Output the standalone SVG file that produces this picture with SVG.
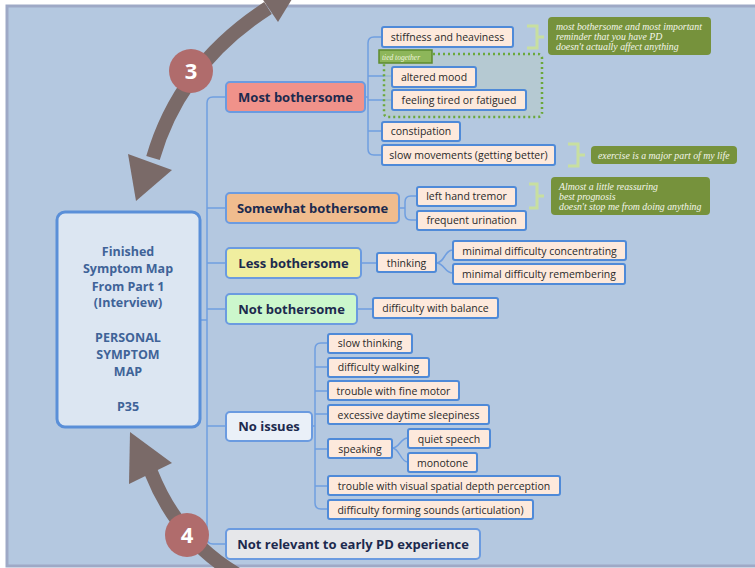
<svg xmlns="http://www.w3.org/2000/svg" width="755" height="568" viewBox="0 0 755 568">
<defs>
<style>
.cat rect{stroke:#6b9be0;stroke-width:2}
.cat text{font-family:"Open Sans","DejaVu Sans",sans-serif;font-weight:bold;font-size:13px;fill:#1c2a4e;text-anchor:middle}
.leaf rect{fill:#fde9dc;stroke:#4f8ad8;stroke-width:2}
.leaf text{font-family:"Open Sans","DejaVu Sans",sans-serif;font-size:10.5px;fill:#2a2a2a;text-anchor:middle}
.note rect{fill:#76923c}
.note text{font-family:"Liberation Serif",serif;font-style:italic;font-size:9.8px;fill:#f4f6ea}
.br{fill:none;stroke:#c8dfa0;stroke-width:3}
.con path{fill:none;stroke:#6f9ee0;stroke-width:1.5}
.arr{fill:none;stroke:#7a6a68;stroke-width:14}
.ah{fill:#7a6a68}
.num circle{fill:#b06c6c}
.num text{font-family:"Open Sans","DejaVu Sans",sans-serif;font-weight:bold;font-size:22px;fill:#ffffff;text-anchor:middle}
</style>
</defs>
<rect x="0" y="0" width="755" height="568" fill="#ffffff"/>
<rect x="7" y="6" width="760" height="560" fill="#b4c8e0" stroke="#9ea9c6" stroke-width="3"/>

<g id="connectors" class="con">
<path d="M226 97 H213 Q207 97 207 103 V538 Q207 544 213 544 H226"/>
<path d="M207 208 H226 M207 263 H226 M207 309 H226 M207 426 H226 M200 320 H207"/>
<path d="M365 97 H368"/>
<path d="M382 37 H374 Q368 37 368 43 V149 Q368 155 374 155 H382"/>
<path d="M368 76 H392 M368 100 H392 M368 131 H382"/>
<path d="M399 208 H405"/>
<path d="M417 196 H411 Q405 196 405 202 V214 Q405 220 411 220 H417"/>
<path d="M361 263 H377"/>
<path d="M436 263 C445 263 444 250 453 250 M436 263 C445 263 444 273 453 273"/>
<path d="M357 309 H373"/>
<path d="M312 426 H315"/>
<path d="M328 343 H321 Q315 343 315 349 V503 Q315 509 321 509 H328"/>
<path d="M315 367 H328 M315 391 H328 M315 414 H328 M315 449 H328 M315 486 H328"/>
<path d="M392 448 C400 448 400 438 408 438 M392 448 C400 448 400 462 408 462"/>
</g>

<g id="group-tied">
<rect x="384" y="54" width="158" height="63" rx="4" fill="#b6cac8" fill-opacity="0.6" stroke="#6aa83a" stroke-width="2.5" stroke-dasharray="2 3"/>
<rect x="379" y="50" width="53" height="13" fill="#8db65a" stroke="#5d8a2e" stroke-width="1.5"/>
<text x="382" y="59.5" font-family="Liberation Serif,serif" font-style="italic" font-size="7.5" fill="#eef5dd">tied together</text>
</g>

<g id="center">
<rect x="57" y="212" width="143" height="215" rx="8" fill="#dce6f2" stroke="#5a8fd8" stroke-width="3"/>
<g font-family="Open Sans,DejaVu Sans,sans-serif" font-weight="bold" font-size="12.5" fill="#3f6398" text-anchor="middle">
<text x="128" y="256">Finished</text>
<text x="128" y="273">Symptom Map</text>
<text x="128" y="291">From Part 1</text>
<text x="128" y="307">(Interview)</text>
<text x="128" y="342">PERSONAL</text>
<text x="128" y="359">SYMPTOM</text>
<text x="128" y="376">MAP</text>
<text x="128" y="411">P35</text>
</g>
</g>

<g id="cat-most" class="cat"><rect x="226" y="82" width="139" height="30" rx="4" fill="#f0928a"/><text x="295.5" y="102">Most bothersome</text></g>
<g id="cat-somewhat" class="cat"><rect x="226" y="193" width="173" height="30" rx="4" fill="#f0bc8e"/><text x="312.5" y="213">Somewhat bothersome</text></g>
<g id="cat-less" class="cat"><rect x="226" y="248" width="135" height="30" rx="4" fill="#f0ee9f"/><text x="293.5" y="268">Less bothersome</text></g>
<g id="cat-not" class="cat"><rect x="226" y="294" width="131" height="30" rx="4" fill="#ccf7cc"/><text x="291.5" y="314">Not bothersome</text></g>
<g id="cat-noissues" class="cat"><rect x="226" y="412" width="86" height="29" rx="4" fill="#eaf0f8"/><text x="269" y="431">No issues</text></g>
<g id="cat-notrelevant" class="cat"><rect x="226" y="529" width="254" height="30" rx="4" fill="#e6e7ea"/><text x="353" y="549">Not relevant to early PD experience</text></g>

<g id="leaf-stiffness" class="leaf"><rect x="382" y="27" width="131" height="20" rx="2"/><text x="447.5" y="41">stiffness and heaviness</text></g>
<g id="leaf-mood" class="leaf"><rect x="392" y="67" width="84" height="20" rx="2"/><text x="434" y="81">altered mood</text></g>
<g id="leaf-tired" class="leaf"><rect x="392" y="90" width="134" height="20" rx="2"/><text x="459" y="104">feeling tired or fatigued</text></g>
<g id="leaf-constipation" class="leaf"><rect x="382" y="122" width="78" height="19" rx="2"/><text x="421" y="135">constipation</text></g>
<g id="leaf-slowmov" class="leaf"><rect x="382" y="145" width="173" height="20" rx="2"/><text x="468.5" y="159">slow movements (getting better)</text></g>
<g id="leaf-tremor" class="leaf"><rect x="417" y="187" width="99" height="19" rx="2"/><text x="466.5" y="200">left hand tremor</text></g>
<g id="leaf-urination" class="leaf"><rect x="417" y="211" width="109" height="19" rx="2"/><text x="471.5" y="224">frequent urination</text></g>
<g id="leaf-thinking" class="leaf"><rect x="377" y="253" width="59" height="19" rx="2"/><text x="406.5" y="266.5">thinking</text></g>
<g id="leaf-concentrating" class="leaf"><rect x="453" y="241" width="173" height="19" rx="2"/><text x="539.5" y="254.5">minimal difficulty concentrating</text></g>
<g id="leaf-remembering" class="leaf"><rect x="453" y="264" width="172" height="20" rx="2"/><text x="539" y="278">minimal difficulty remembering</text></g>
<g id="leaf-balance" class="leaf"><rect x="373" y="298" width="125" height="20" rx="2"/><text x="435.5" y="312">difficulty with balance</text></g>
<g id="leaf-slowthinking" class="leaf"><rect x="328" y="334" width="84" height="19" rx="2"/><text x="370" y="347">slow thinking</text></g>
<g id="leaf-walking" class="leaf"><rect x="328" y="358" width="101" height="19" rx="2"/><text x="378.5" y="371">difficulty walking</text></g>
<g id="leaf-finemotor" class="leaf"><rect x="328" y="381" width="131" height="19" rx="2"/><text x="393.5" y="394.5">trouble with fine motor</text></g>
<g id="leaf-sleepiness" class="leaf"><rect x="328" y="405" width="161" height="19" rx="2"/><text x="408.5" y="418.5">excessive daytime sleepiness</text></g>
<g id="leaf-speaking" class="leaf"><rect x="328" y="439" width="64" height="19" rx="2"/><text x="360" y="452.5">speaking</text></g>
<g id="leaf-quiet" class="leaf"><rect x="408" y="429" width="82" height="19" rx="2"/><text x="449" y="442.5">quiet speech</text></g>
<g id="leaf-monotone" class="leaf"><rect x="408" y="453" width="69" height="19" rx="2"/><text x="442.5" y="466.5">monotone</text></g>
<g id="leaf-visual" class="leaf"><rect x="328" y="476" width="232" height="19" rx="2"/><text x="444" y="489.5">trouble with visual spatial depth perception</text></g>
<g id="leaf-articulation" class="leaf"><rect x="328" y="500" width="205" height="19" rx="2"/><text x="430.5" y="513.5">difficulty forming sounds (articulation)</text></g>

<g id="brackets">
<path class="br" d="M527 26 H537 V48 H527 M537 37 H544"/>
<path class="br" d="M568 144 H578 V166 H568 M578 155 H585"/>
<path class="br" d="M529 184 H537 V208 H529 M537 196 H544"/>
</g>

<g id="note-1" class="note"><rect x="548" y="17" width="163" height="38" rx="4"/>
<text x="556" y="30">most bothersome and most important</text>
<text x="556" y="40">reminder that you have PD</text>
<text x="556" y="50">doesn't actually affect anything</text></g>
<g id="note-2" class="note"><rect x="591" y="146" width="146" height="18" rx="4"/>
<text x="598" y="158.5">exercise is a major part of my life</text></g>
<g id="note-3" class="note"><rect x="551" y="177" width="159" height="38" rx="4"/>
<text x="559" y="190">Almost a little reassuring</text>
<text x="559" y="200">best prognosis</text>
<text x="559" y="210">doesn't stop me from doing anything</text></g>

<g id="arrow-3">
<path class="arr" d="M268 8 Q180 65 153 158"/>
<polygon class="ah" points="128,154 172,170 136,201"/>
<polygon class="ah" points="255,-12 278,22 300,-14"/>
</g>
<g id="arrow-4">
<path class="arr" d="M151 472 Q178 540 238 575"/>
<polygon class="ah" points="130,432 129,484 172,463"/>
</g>
<g id="badge-3" class="num"><circle cx="191" cy="71" r="22"/><text x="191" y="79">3</text></g>
<g id="badge-4" class="num"><circle cx="187" cy="535" r="22"/><text x="187" y="543">4</text></g>
</svg>
